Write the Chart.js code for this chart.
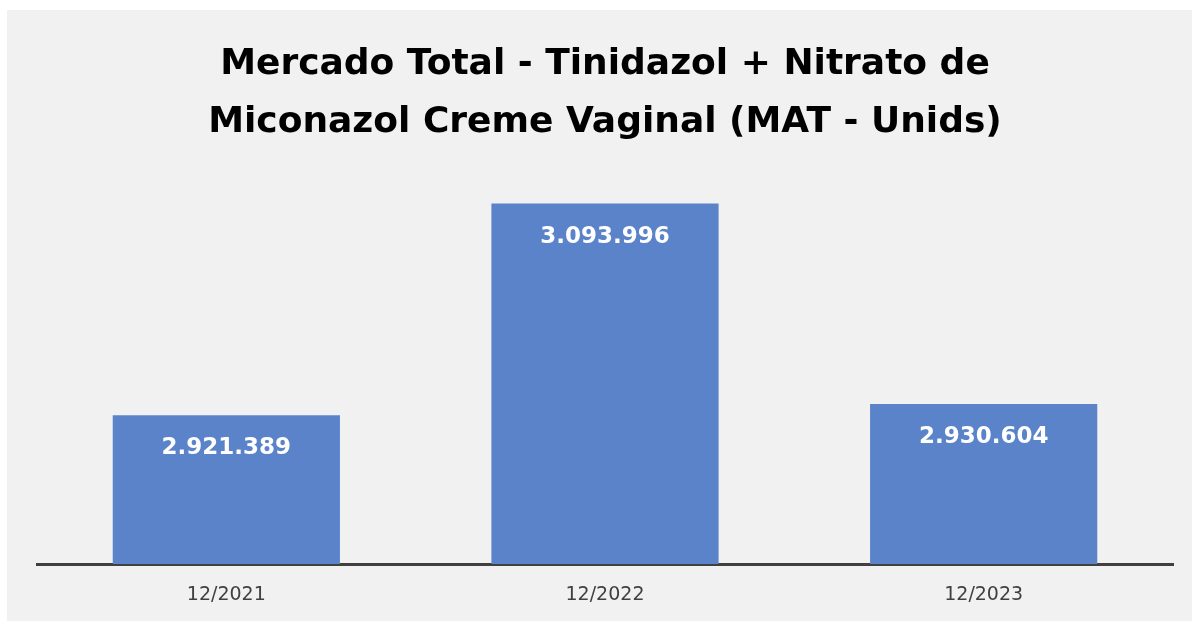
<!DOCTYPE html>
<html>
<head>
<meta charset="utf-8">
<script src="https://cdn.jsdelivr.net/npm/chart.js@4"></script>
<style>
  html, body { margin: 0; padding: 0; background: #ffffff; }
  #wrap { width: 1192px; height: 621px; }
</style>
</head>
<body>
<div id="wrap"><canvas id="myGraph"></canvas></div>
<script>
const periods = ['12/2021', '12/2022', '12/2023'];
const units = [2921389, 3093996, 2930604];
const titleLines = ['Mercado Total - Tinidazol + Nitrato de', 'Miconazol Creme Vaginal (MAT - Unids)'];

function fmt(n) {
  return String(n).replace(/\B(?=(\d{3})+(?!\d))/g, '.');
}

// gray panel behind the chart
const panel = {
  id: 'panel',
  beforeDraw(chart) {
    const c = chart.ctx;
    c.save();
    c.fillStyle = '#f1f1f1';
    c.fillRect(7, 10, chart.width - 7, chart.height - 10);
    c.restore();
  }
};

// white value labels inside the top of each bar
const barLabels = {
  id: 'barLabels',
  afterDatasetsDraw(chart) {
    const c = chart.ctx;
    const meta = chart.getDatasetMeta(0);
    c.save();
    c.fillStyle = '#ffffff';
    c.font = 'bold 23px "DejaVu Sans"';
    c.textAlign = 'center';
    c.textBaseline = 'middle';
    meta.data.forEach((bar, i) => {
      c.fillText(fmt(units[i]), bar.x, bar.y + 33);
    });
    c.restore();
  }
};

const ctx = document.getElementById('myGraph');

const data = {
  labels: periods,
  datasets: [{
    label: 'Unids',
    data: units,
    backgroundColor: '#5b83c9',
    borderWidth: 0,
    barPercentage: 0.6,
    categoryPercentage: 1
  }]
};

const config = {
  type: 'bar',
  data: data,
  options: {
    responsive: true,
    maintainAspectRatio: false,
    animation: false,
    layout: {
      padding: { left: 37, right: 19, top: 36, bottom: 0 }
    },
    plugins: {
      legend: { display: false },
      tooltip: { enabled: false },
      title: {
        display: true,
        text: titleLines,
        color: '#000000',
        font: { family: 'DejaVu Sans', size: 36, weight: 'bold', lineHeight: 1.6 },
        padding: { top: 0, bottom: 45 }
      }
    },
    scales: {
      x: {
        grid: { display: false, drawTicks: false },
        border: { display: true, color: '#404040', width: 3 },
        ticks: {
          color: '#404040',
          font: { family: 'DejaVu Sans', size: 19, lineHeight: 1.16 },
          padding: 20
        },
        afterFit(scale) {
          scale.height = 57;
        }
      },
      y: {
        display: false,
        min: 2800000,
        max: 3100000
      }
    }
  },
  plugins: [panel, barLabels]
};

const myChart = new Chart(ctx, config);
</script>
</body>
</html>
